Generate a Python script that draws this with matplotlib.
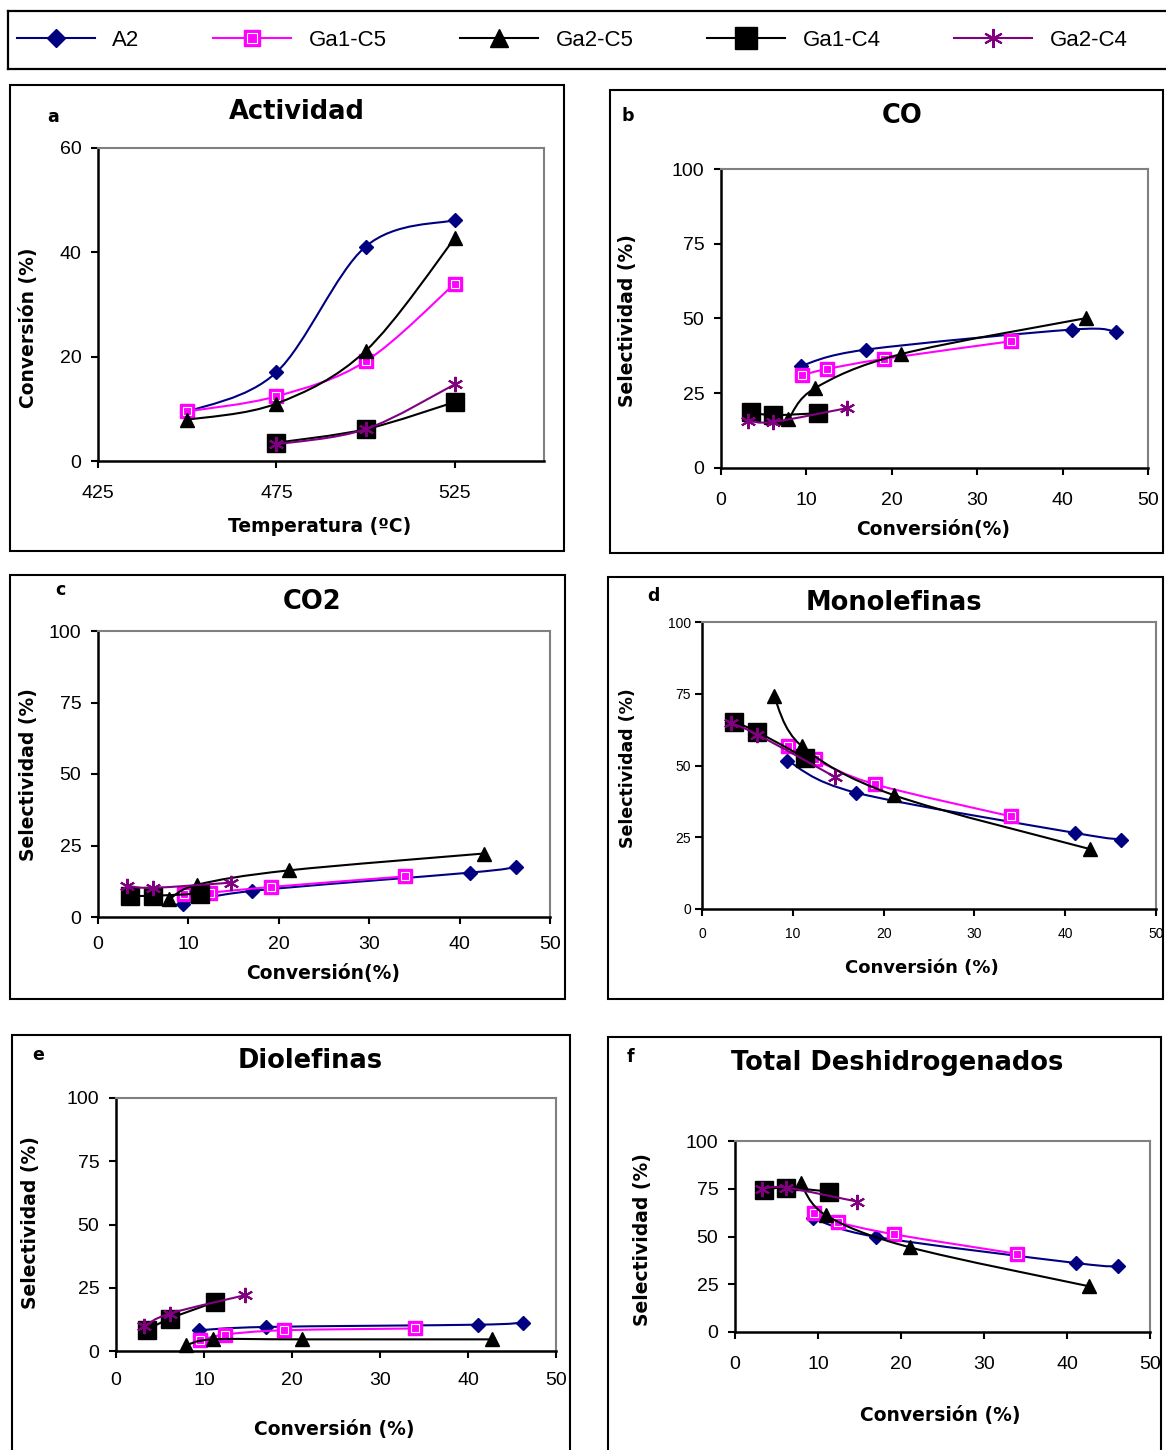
import numpy as np
import matplotlib
matplotlib.use("Agg")
import matplotlib.pyplot as plt
from matplotlib.path import Path
from matplotlib.patches import PathPatch, Rectangle
from matplotlib.lines import Line2D
from matplotlib.legend_handler import HandlerTuple

plt.rcParams['font.family'] = ['Liberation Sans', 'DejaVu Sans']

W, H = 1166, 1450

series = ["A2", "Ga1-C5", "Ga2-C5", "Ga1-C4", "Ga2-C4"]

# reaction temperatures (ºC)
temp_c5 = [450, 475, 500, 525]
temp_c4 = [475, 500, 525]

# conversion (%) at each temperature
conv_a2 = [9.4, 17.0, 41.1, 46.2]
conv_ga1c5 = [9.5, 12.4, 19.1, 34.0]
conv_ga2c5 = [7.9, 11.0, 21.1, 42.7]
conv_ga1c4 = [3.5, 6.1, 11.3]
conv_ga2c4 = [3.2, 6.1, 14.7]

# selectivity to CO (%)
co_a2 = [34.2, 39.6, 46.3, 45.5]
co_ga1c5 = [31.1, 33.1, 36.5, 42.4]
co_ga2c5 = [16.3, 26.7, 38.1, 50.1]
co_ga1c4 = [18.6, 17.7, 18.3]
co_ga2c4 = [15.8, 15.4, 20.0]

# selectivity to CO2 (%)
co2_a2 = [4.7, 9.1, 15.5, 17.4]
co2_ga1c5 = [7.9, 8.5, 10.5, 14.2]
co2_ga2c5 = [6.2, 11.3, 16.3, 22.2]
co2_ga1c4 = [7.4, 7.4, 8.2]
co2_ga2c4 = [10.9, 10.2, 12.0]

# selectivity to monoolefins (%)
mono_a2 = [51.7, 40.5, 26.5, 24.2]
mono_ga1c5 = [56.7, 52.1, 43.4, 32.3]
mono_ga2c5 = [74.3, 56.7, 39.7, 20.9]
mono_ga1c4 = [65.2, 61.7, 52.7]
mono_ga2c4 = [64.7, 60.8, 45.9]

# selectivity to diolefins (%)
di_a2 = [8.2, 9.5, 10.4, 11.2]
di_ga1c5 = [4.2, 6.5, 8.2, 8.9]
di_ga2c5 = [2.2, 4.6, 4.6, 4.6]
di_ga1c4 = [8.2, 12.8, 19.4]
di_ga2c4 = [9.8, 14.8, 22.1]

# total dehydrogenated products (%)
tot_a2 = [59.6, 49.8, 36.1, 34.3]
tot_ga1c5 = [62.2, 57.5, 51.2, 40.9]
tot_ga2c5 = [77.9, 61.0, 44.3, 23.9]
tot_ga1c4 = [74.4, 75.6, 73.5]
tot_ga2c4 = [74.9, 75.6, 68.3]

conv = [conv_a2, conv_ga1c5, conv_ga2c5, conv_ga1c4, conv_ga2c4]
temps = [temp_c5, temp_c5, temp_c5, temp_c4, temp_c4]

styles = [
    dict(color="#000080", marker="D", ms=7.5),
    dict(color="#FF00FF", marker="s", ms=9.5),
    dict(color="black", marker="^", ms=10),
    dict(color="black", marker="s", ms=13),
    dict(color="#800080", marker=(6, 2, 0), ms=11),
]


def px(x, y):
    return x / W, 1 - y / H


def smooth_path(x, y):
    # cubic Bezier through the points (Catmull-Rom style, like a spreadsheet "smoothed line")
    pts = np.column_stack([x, y]).astype(float)
    n = len(pts)
    verts = [pts[0]]
    codes = [Path.MOVETO]
    for i in range(n - 1):
        p0 = pts[i - 1] if i > 0 else pts[i]
        p1 = pts[i]
        p2 = pts[i + 1]
        p3 = pts[i + 2] if i + 2 < n else p2
        verts += [p1 + (p2 - p0) / 6, p2 - (p3 - p1) / 6, p2]
        codes += [Path.CURVE4] * 3
    return Path(verts, codes)


def marker_kw(st, scale=1.0):
    face = "none" if st["marker"] == (6, 2, 0) else st["color"]
    return dict(marker=st["marker"], ms=st["ms"] * scale, mfc=face, mec=st["color"],
                mew=1.5 if face == "none" else 1.0)


def draw_series(ax, xs, ys):
    for k, (x, y, st) in enumerate(zip(xs, ys, styles)):
        z = 3 + k
        ax.add_patch(PathPatch(smooth_path(x, y), fc="none", ec=st["color"], lw=1.5, zorder=z))
        ax.plot(x, y, ls="none", zorder=z, clip_on=False, **marker_kw(st))
        if k == 1:
            ax.plot(x, y, ls="none", marker="s", ms=st["ms"] * 0.55, mfc="none",
                    mec="white", mew=0.8, zorder=z, clip_on=False)


def style_axes(ax, xlim, xticks, ylim, yticks, size=14, pad=7):
    ax.set_xlim(*xlim)
    ax.set_ylim(*ylim)
    ax.set_xticks(xticks)
    ax.set_yticks(yticks)
    for side in ["left", "bottom"]:
        ax.spines[side].set_color("black")
        ax.spines[side].set_linewidth(1.8)
    for side in ["top", "right"]:
        ax.spines[side].set_color("#808080")
        ax.spines[side].set_linewidth(1.5)
    ax.tick_params(direction="out", length=5, width=1.5, labelsize=size, pad=pad,
                   top=False, right=False)


def add_axes(rect):
    x0, y0, x1, y1 = rect
    return fig.add_axes([x0 / W, 1 - y1 / H, (x1 - x0) / W, (y1 - y0) / H])


def box(x0, y0, x1, y1):
    fig.add_artist(Rectangle(px(x0, y1), (x1 - x0) / W, (y1 - y0) / H,
                             transform=fig.transFigure, fill=False, ec="black", lw=1.5))


def label(x, y, s, size, rot=0):
    fig.text(*px(x, y), s, ha="center", va="center", rotation=rot,
             fontsize=size, fontweight="bold", family="DejaVu Sans")


fig = plt.figure(figsize=(W / 100, H / 100), dpi=100)

# legend strip
ax_leg = add_axes((8, 11, 1190, 69))
ax_leg.set_xticks([])
ax_leg.set_yticks([])
for sp in ax_leg.spines.values():
    sp.set_linewidth(1.6)
handles = []
for k, st in enumerate(styles):
    line = Line2D([], [], color=st["color"], lw=1.5)
    mark = Line2D([], [], ls="none", **marker_kw(st, 1.25))
    if k == 1:
        inner = Line2D([], [], ls="none", marker="s", ms=st["ms"] * 0.7, mfc="none",
                       mec="white", mew=0.8)
        handles.append((line, mark, inner))
    else:
        handles.append((line, mark))
ax_leg.legend(handles, series, ncol=5, loc="center left", mode="expand",
              bbox_to_anchor=(0.0, 0.0, 0.955, 1.0), frameon=False, fontsize=16,
              handlelength=3.5, handletextpad=0.8, borderaxespad=0,
              handler_map={tuple: HandlerTuple(ndivide=1, pad=0)})

sel_ticks = [0, 25, 50, 75, 100]
conv_ticks = [0, 10, 20, 30, 40, 50]

# a: activity
box(10, 85, 564, 551)
ax = add_axes((98, 148, 544, 461))
draw_series(ax, temps, conv)
style_axes(ax, (425, 550), [425, 475, 525], (0, 60), [0, 20, 40, 60])
ax.tick_params(axis="x", pad=12)
label(297, 112, "Actividad", 18.5)
label(53, 117, "a", 12.5)
label(320, 527, "Temperatura (ºC)", 13.5)
label(29, 328, "Conversión (%)", 13.5, 90)

# b: CO
box(610, 90, 1163, 553)
ax = add_axes((721, 169, 1148, 468))
draw_series(ax, conv, [co_a2, co_ga1c5, co_ga2c5, co_ga1c4, co_ga2c4])
style_axes(ax, (0, 50), conv_ticks, (0, 100), sel_ticks)
ax.tick_params(axis="x", pad=12)
label(902, 116, "CO", 18.5)
label(628, 116, "b", 12.5)
label(933, 529, "Conversión(%)", 13.5)
label(628, 321, "Selectividad (%)", 13.5, 90)

# c: CO2
box(10, 575, 565, 999)
ax = add_axes((98, 631, 550, 917))
draw_series(ax, conv, [co2_a2, co2_ga1c5, co2_ga2c5, co2_ga1c4, co2_ga2c4])
style_axes(ax, (0, 50), conv_ticks, (0, 100), sel_ticks)
ax.tick_params(axis="x", pad=9)
label(312, 602, "CO2", 18.5)
label(60, 590, "c", 12.5)
label(323, 973, "Conversión(%)", 13.5)
label(29, 775, "Selectividad (%)", 13.5, 90)

# d: monoolefins
box(608, 577, 1163, 999)
ax = add_axes((702, 622, 1156, 909))
draw_series(ax, conv, [mono_a2, mono_ga1c5, mono_ga2c5, mono_ga1c4, mono_ga2c4])
style_axes(ax, (0, 50), conv_ticks, (0, 100), sel_ticks, size=10, pad=3)
ax.tick_params(axis="x", pad=8)
label(894, 603, "Monolefinas", 18.5)
label(653, 596, "d", 12.5)
label(922, 968, "Conversión (%)", 13)
label(628, 768, "Selectividad (%)", 12.5, 90)

# e: diolefins
box(12, 1035, 570, 1465)
ax = add_axes((116, 1098, 556, 1351))
draw_series(ax, conv, [di_a2, di_ga1c5, di_ga2c5, di_ga1c4, di_ga2c4])
style_axes(ax, (0, 50), conv_ticks, (0, 100), sel_ticks)
ax.tick_params(axis="x", pad=10)
label(310, 1061, "Diolefinas", 18.5)
label(38, 1055, "e", 12.5)
label(334, 1430, "Conversión (%)", 13.5)
label(31, 1223, "Selectividad (%)", 13.5, 90)

# f: total dehydrogenated
box(608, 1037, 1161, 1465)
ax = add_axes((735, 1141, 1150, 1332))
draw_series(ax, conv, [tot_a2, tot_ga1c5, tot_ga2c5, tot_ga1c4, tot_ga2c4])
style_axes(ax, (0, 50), conv_ticks, (0, 100), sel_ticks)
ax.tick_params(axis="x", pad=12)
label(897, 1063, "Total Deshidrogenados", 18.5)
label(630, 1057, "f", 12.5)
label(940, 1416, "Conversión (%)", 13.5)
label(642, 1240, "Selectividad (%)", 13.5, 90)

fig.savefig("out.png", dpi=100, facecolor="white")
